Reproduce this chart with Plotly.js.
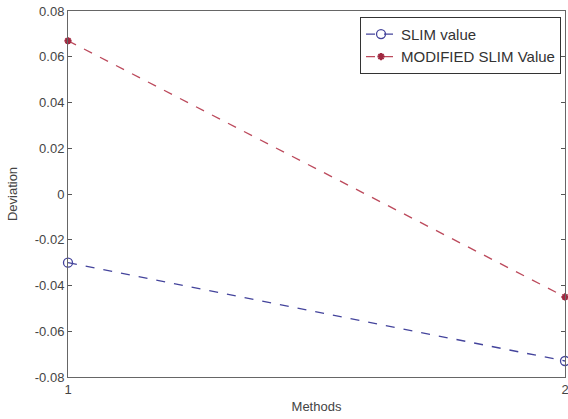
<!DOCTYPE html>
<html>
<head>
<meta charset="utf-8">
<script src="https://cdn.plot.ly/plotly-3.0.1.min.js"></script>
<style>html,body{margin:0;padding:0;background:#fff;}#chart{width:568px;height:419px;}</style>
</head>
<body>
<div id="chart"></div>
<script>
const methods = [1, 2];
const slimValue = [-0.030, -0.073];
const modifiedSlimValue = [0.067, -0.045];
const yTicks = [-0.08, -0.06, -0.04, -0.02, 0, 0.02, 0.04, 0.06, 0.08];
const yTickText = ['-0.08', '-0.06', '-0.04', '-0.02', '0', '0.02', '0.04', '0.06', '0.08'];

const traces = [
  {
    x: methods, y: slimValue, name: 'SLIM value', type: 'scatter', mode: 'lines+markers',
    line: {color: '#44449c', dash: 'dash', width: 1.3},
    marker: {symbol: 'circle-open', size: 9, color: '#44449c', line: {width: 1.3}},
    cliponaxis: false
  },
  {
    x: methods, y: modifiedSlimValue, name: 'MODIFIED SLIM Value', type: 'scatter', mode: 'lines+markers',
    line: {color: '#bc4a5c', dash: 'dash', width: 1.3},
    marker: {symbol: 'asterisk-open', size: 6, color: '#a02840', line: {width: 2}},
    cliponaxis: false
  }
];

const axisFont = {family: 'Liberation Sans, Arial, sans-serif', size: 13, color: '#444'};

const layout = {
  width: 568, height: 419,
  margin: {l: 68, r: 3, t: 11, b: 42},
  paper_bgcolor: '#fff', plot_bgcolor: '#fff',
  showlegend: true,
  legend: {
    x: 0.992, y: 0.984, xanchor: 'right', yanchor: 'top',
    bgcolor: '#fff', bordercolor: '#333', borderwidth: 1,
    font: {family: 'Liberation Sans, Arial, sans-serif', size: 15, color: '#333'},
    tracegroupgap: 0
  },
  xaxis: {
    range: [1, 2], tickvals: methods, ticktext: ['1', '2'],
    ticks: 'inside', ticklen: 4, tickcolor: '#555',
    showline: true, linecolor: '#666', linewidth: 1, mirror: 'allticks',
    showgrid: false, zeroline: false, tickfont: axisFont, ticklabeloverflow: 'allow',
    title: {text: 'Methods', font: axisFont, standoff: 6}
  },
  yaxis: {
    range: [-0.08, 0.08], tickvals: yTicks, ticktext: yTickText,
    ticks: 'inside', ticklen: 4, tickcolor: '#555',
    showline: true, linecolor: '#666', linewidth: 1, mirror: 'allticks',
    showgrid: false, zeroline: false, tickfont: axisFont,
    title: {text: 'Deviation', font: axisFont, standoff: 14}
  }
};

Plotly.newPlot('chart', traces, layout, {displayModeBar: false, staticPlot: true});
</script>
</body>
</html>
